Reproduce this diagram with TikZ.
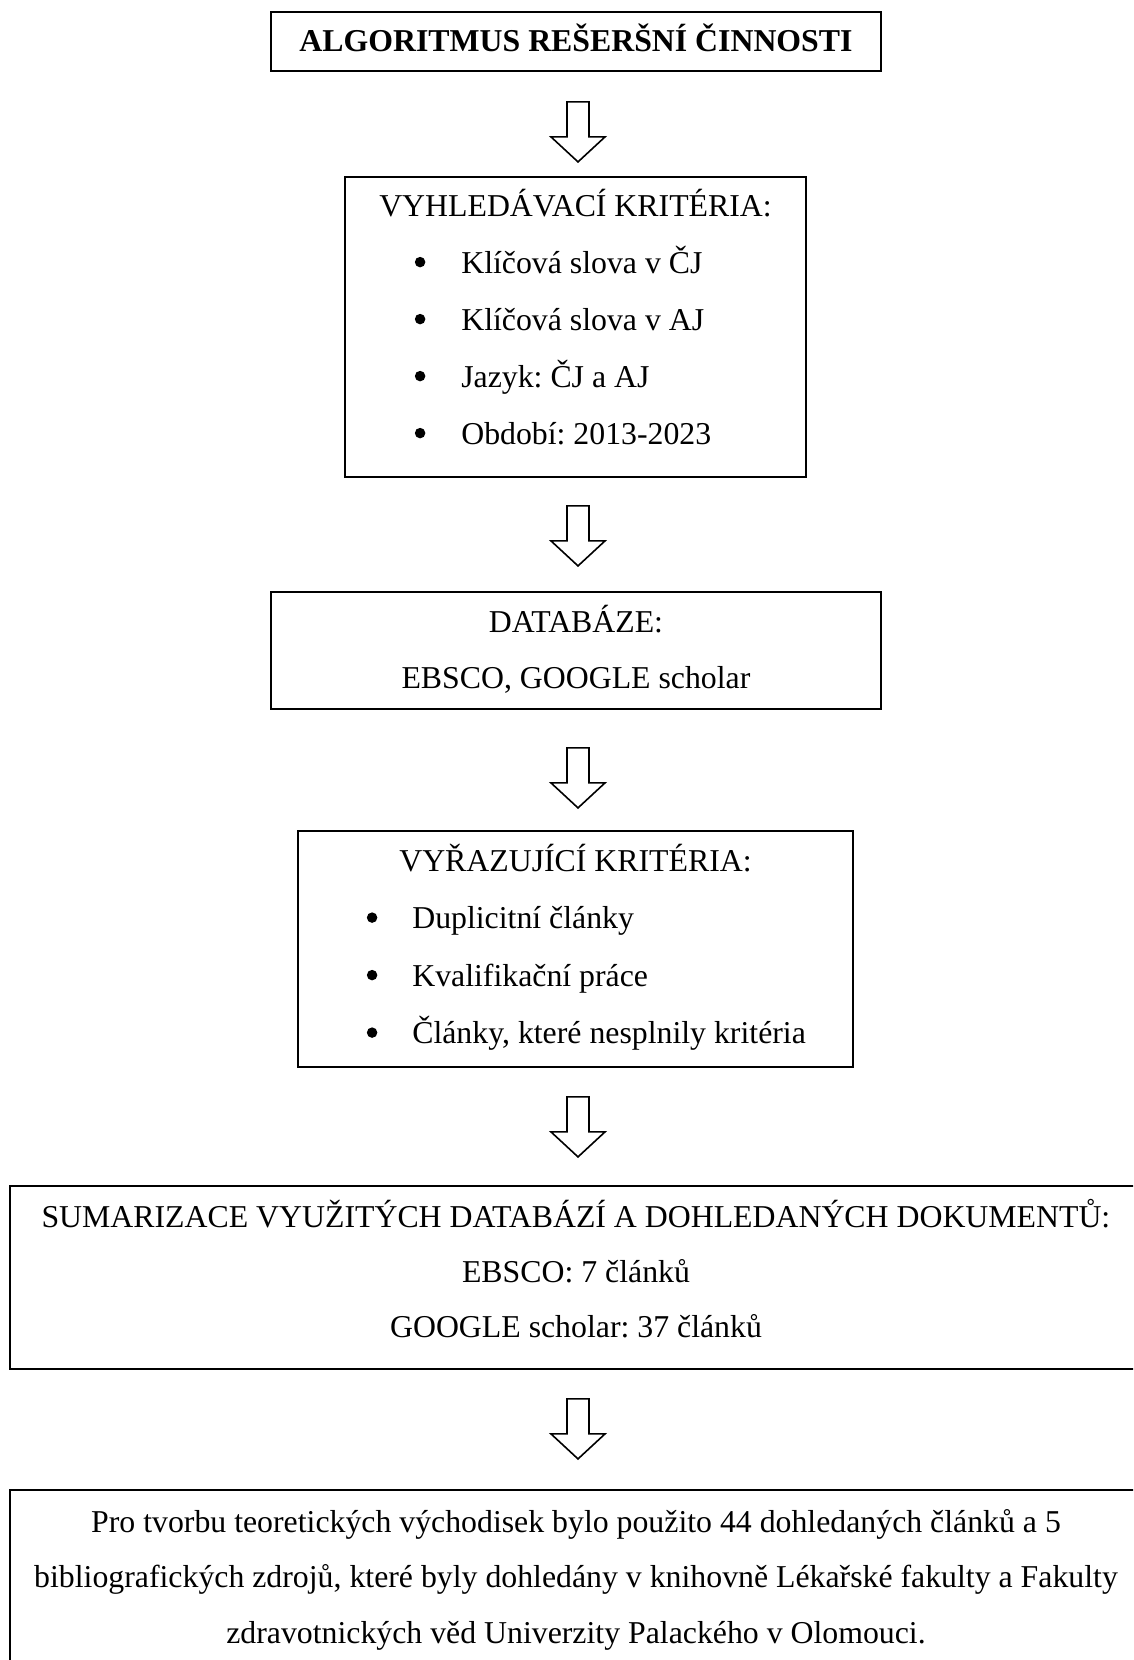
\documentclass[tikz,border=0pt]{standalone}
\usepackage{fontspec}
\setmainfont{Liberation Serif}
\frenchspacing
\usetikzlibrary{calc}
\tikzset{
  box/.style={draw, line width=1.8pt, inner sep=0pt},
  txt/.style={anchor=base, inner sep=0pt, font=\fontsize{31.8}{38}\selectfont},
  dot/.style={circle, fill, inner sep=0pt, minimum size=10.5pt},
  hollow/.pic={
    \draw[line width=1.6pt, line join=miter, fill=white]
      (-11,0) -- (11,0) -- (11,35) -- (27,35) -- (0,60) -- (-27,35) -- (-11,35) -- cycle;
  }
}
\begin{document}
\begin{tikzpicture}[x=1pt, y=-1pt]
  \useasboundingbox (0,0) rectangle (1133,1660);
  \clip (0,0) rectangle (1133,1660);

  % title box
  \node[box, minimum width=610pt, minimum height=59pt] (algo) at (576,41.5) {};
  \node[txt, font=\fontsize{31.8}{38}\selectfont\bfseries] (algo-t) at ($(algo.north)+(0,40)$) {ALGORITMUS REŠERŠNÍ ČINNOSTI};
  \pic at ($(algo.south)+(2,30)$) {hollow};

  % search criteria with bullets
  \node[box, minimum width=461pt, minimum height=300pt] (hledani) at (575.5,327) {};
  \node[txt] (hledani-t) at ($(hledani.north)+(0,40)$) {VYHLEDÁVACÍ KRITÉRIA:};
  \foreach \entry [count=\i] in {Klíčová slova v ČJ, Klíčová slova v AJ, Jazyk: ČJ a AJ, Období: 2013-2023} {
    \node[dot] at ($(hledani.north west)+(76,29+57*\i)$) {};
    \node[txt, anchor=base west] at ($(hledani.north west)+(117,40+57*\i)$) {\entry};
  }
  \pic at ($(hledani.south)+(2.5,28)$) {hollow};

  % databases
  \node[box, minimum width=610pt, minimum height=117pt] (databaze) at (576,650.5) {};
  \node[txt] (databaze-t) at ($(databaze.north)+(0,41)$) {DATABÁZE:};
  \node[txt] (databaze-1) at ($(databaze.north)+(0,97)$) {EBSCO, GOOGLE scholar};
  \pic at ($(databaze.south)+(2,38)$) {hollow};

  % exclusion criteria with bullets
  \node[box, minimum width=555pt, minimum height=236pt] (vyrazeni) at (575.5,949) {};
  \node[txt] (vyrazeni-t) at ($(vyrazeni.north)+(0,41)$) {VYŘAZUJÍCÍ KRITÉRIA:};
  \foreach \entry [count=\i] in {Duplicitní články, Kvalifikační práce, {Články, které nesplnily kritéria}} {
    \node[dot] at ($(vyrazeni.north west)+(75,30+57.5*\i)$) {};
    \node[txt, anchor=base west] at ($(vyrazeni.north west)+(115,41+57.5*\i)$) {\entry};
  }
  \pic at ($(vyrazeni.south)+(2.5,29)$) {hollow};

  % summary box, wider than the page
  \node[box, minimum width=1132pt, minimum height=183pt] (souhrn) at (576,1277.5) {};
  \node[txt] (souhrn-t) at ($(souhrn.north)+(0,42)$) {SUMARIZACE VYUŽITÝCH DATABÁZÍ A DOHLEDANÝCH DOKUMENTŮ:};
  \node[txt] (souhrn-1) at ($(souhrn.north)+(0,97)$) {EBSCO: 7 článků};
  \node[txt] (souhrn-2) at ($(souhrn.north)+(0,152)$) {GOOGLE scholar: 37 článků};
  \pic at ($(souhrn.south)+(2,29)$) {hollow};

  % result box, runs off the bottom
  \node[box, minimum width=1132pt, minimum height=210pt] (zaver) at (576,1595) {};
  \node[txt] (zaver-1) at ($(zaver.north)+(0,43)$) {Pro tvorbu teoretických východisek bylo použito 44 dohledaných článků a 5};
  \node[txt] (zaver-2) at ($(zaver.north)+(0,98)$) {bibliografických zdrojů, které byly dohledány v knihovně Lékařské fakulty a Fakulty};
  \node[txt] (zaver-3) at ($(zaver.north)+(0,154)$) {zdravotnických věd Univerzity Palackého v Olomouci.};
\end{tikzpicture}
\end{document}
